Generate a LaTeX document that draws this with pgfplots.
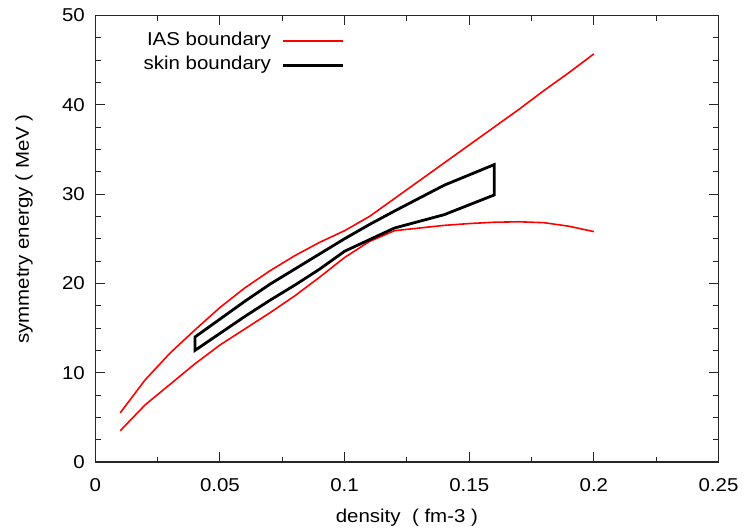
\documentclass[border=0pt]{standalone}
\usepackage{fontspec}
\setmainfont{Liberation Sans}[FakeStretch=1.1]
\usepackage{pgfplots}
\pgfplotsset{compat=1.18}
\newcommand{\lf}{\fontsize{18.6}{22}\selectfont}
\begin{document}
\begin{tikzpicture}
\begin{axis}[
  scale only axis,
  width=623.2pt, height=446.5pt,
  xmin=0, xmax=0.25, ymin=0, ymax=50,
  xtick={0,0.05,0.1,0.15,0.2,0.25},
  xticklabels={0,0.05,0.1,0.15,0.2,0.25},
  ytick={0,10,20,30,40,50},
  minor x tick num=1, minor y tick num=3,
  tick align=inside, tick pos=both,
  major tick length=10pt, minor tick length=5.5pt,
  axis line style={line width=1.3pt, black!85},
  every tick/.style={black!85, line width=0.9pt},
  /pgf/number format/assume math mode=true,
  tick label style={font=\lf, black},
  xticklabel style={anchor=base, yshift=-29pt},
  yticklabel style={anchor=east, xshift=-7pt},
  label style={font=\lf, black},
  xlabel={density\ \ ( fm-3 )},
  ylabel={symmetry energy ( MeV )},
  xlabel style={at={(axis description cs:0.5,-0.1355)}, anchor=base},
  ylabel style={at={(axis description cs:-0.1144,0.5218)}, anchor=center},
  legend plot pos=right,
  legend cell align=right,
  legend style={draw=none, fill=none, font=\lf, anchor=north east,
    at={(0.4007,0.9653)}, inner sep=0pt,
    nodes={inner sep=2pt, text height=12pt, text depth=4pt},
    row sep=4pt, column sep=9pt},
  legend image code/.code={\draw[#1] (0pt,0pt) -- (60pt,0pt);},
]
\addplot[red, line width=1.6pt, forget plot] coordinates {
(0.01,5.5) (0.02,9.2) (0.03,12.2) (0.04,14.8) (0.05,17.3) (0.06,19.5)
(0.07,21.4) (0.08,23.1) (0.09,24.6) (0.10,25.9) (0.11,27.5) (0.12,29.5)
(0.13,31.5) (0.14,33.5) (0.15,35.5) (0.16,37.5) (0.17,39.5) (0.18,41.6)
(0.19,43.6) (0.20,45.7)};
\addplot[red, line width=1.6pt] coordinates {
(0.01,3.5) (0.02,6.4) (0.03,8.7) (0.04,11.0) (0.05,13.1) (0.06,14.9)
(0.07,16.7) (0.08,18.6) (0.09,20.7) (0.10,22.9) (0.11,24.7) (0.12,25.9)
(0.13,26.2) (0.14,26.5) (0.15,26.7) (0.16,26.85) (0.17,26.9) (0.18,26.8)
(0.19,26.4) (0.20,25.8)};
\addlegendentry{IAS boundary}
\addplot[black, line width=2.8pt, line join=miter] coordinates {
(0.04,14.0) (0.05,16.0) (0.06,18.0) (0.07,19.9) (0.08,21.6) (0.09,23.3)
(0.10,25.0) (0.11,26.6) (0.12,28.1) (0.14,31.0) (0.16,33.3) (0.16,29.9)
(0.14,27.7) (0.12,26.2) (0.11,24.9) (0.10,23.6) (0.09,21.6) (0.08,19.8)
(0.07,18.1) (0.06,16.3) (0.05,14.4) (0.04,12.5)} --cycle;
\addlegendentry{skin boundary}
\end{axis}
\pgfresetboundingbox
\path[use as bounding box] (-95.3pt,-65pt) rectangle (653.7pt,462pt);
\end{tikzpicture}
\end{document}
